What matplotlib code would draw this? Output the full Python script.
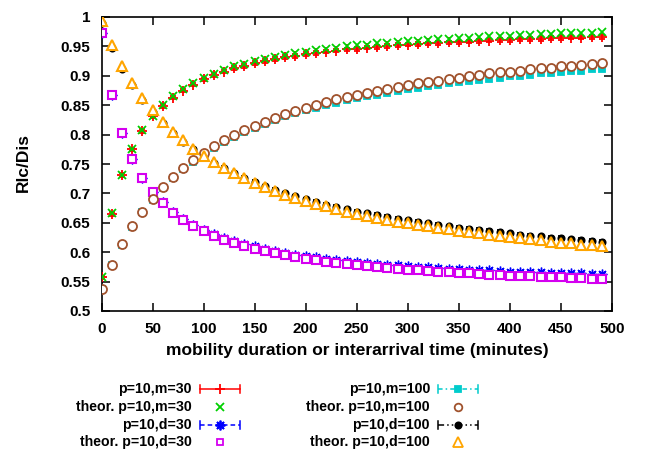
import numpy as np
import matplotlib
matplotlib.use('Agg')
import matplotlib.pyplot as plt
from matplotlib.lines import Line2D

plt.rcParams['font.family'] = ['Liberation Sans', 'DejaVu Sans']
plt.rcParams['font.weight'] = 'bold'

# ── Data ──────────────────────────────────────────────────────────────────────
x = np.arange(0, 500, 10)

sim_m30 = [.557, .665, .731, .775, .806, .831, .849, .863, .875, .885,
           .894, .901, .907, .913, .917, .922, .925, .929, .932, .934,
           .937, .939, .941, .943, .945, .946, .948, .949, .951, .952,
           .953, .954, .955, .956, .957, .957, .958, .959, .960, .961,
           .961, .962, .963, .963, .964, .964, .965, .965, .966, .966]
th_m30 = [.557, .666, .732, .776, .808, .832, .850, .865, .877, .887,
          .896, .903, .910, .916, .920, .925, .929, .932, .936, .938,
          .941, .944, .946, .948, .950, .952, .953, .955, .956, .958,
          .959, .960, .961, .962, .963, .964, .965, .966, .967, .968,
          .968, .969, .970, .971, .971, .972, .972, .973, .973, .974]
sim_d30 = [.973, .867, .802, .759, .727, .703, .685, .669, .657, .647,
           .638, .631, .624, .619, .614, .610, .606, .602, .599, .596,
           .594, .591, .589, .587, .585, .583, .582, .580, .579, .578,
           .576, .575, .574, .573, .572, .571, .570, .569, .569, .568,
           .567, .567, .566, .566, .565, .565, .564, .564, .563, .563]
th_d30 = [.973, .867, .802, .758, .726, .702, .683, .667, .655, .644,
          .636, .628, .621, .616, .610, .606, .602, .598, .595, .592,
          .589, .586, .584, .582, .580, .578, .576, .575, .573, .572,
          .570, .569, .568, .567, .566, .565, .564, .563, .562, .561,
          .560, .559, .559, .558, .557, .557, .556, .556, .555, .555]
sim_m100 = [.537, .578, .613, .643, .668, .689, .709, .726, .741, .754,
            .766, .777, .787, .796, .804, .811, .818, .825, .831, .836,
            .841, .846, .850, .854, .858, .862, .865, .868, .871, .874,
            .877, .880, .882, .885, .887, .889, .891, .893, .895, .897,
            .899, .900, .902, .904, .905, .907, .908, .909, .911, .912]
th_m100 = [.537, .579, .614, .644, .669, .691, .711, .728, .743, .756,
           .769, .780, .790, .799, .807, .815, .822, .829, .835, .840,
           .846, .851, .855, .860, .864, .868, .871, .875, .878, .881,
           .884, .887, .890, .892, .895, .897, .899, .901, .904, .906,
           .907, .909, .911, .913, .914, .916, .917, .919, .920, .922]
sim_d100 = [.990, .947, .912, .884, .859, .838, .819, .803, .788, .775,
            .763, .752, .743, .734, .726, .719, .712, .706, .700, .695,
            .690, .685, .681, .677, .673, .669, .666, .663, .660, .657,
            .654, .651, .649, .647, .644, .642, .640, .638, .636, .634,
            .632, .630, .628, .627, .625, .624, .622, .621, .619, .617]
th_d100 = [.994, .952, .917, .888, .863, .841, .822, .805, .790, .776,
           .764, .753, .743, .734, .726, .718, .711, .704, .698, .693,
           .687, .682, .678, .673, .669, .665, .662, .658, .655, .652,
           .649, .646, .644, .641, .639, .636, .634, .632, .630, .628,
           .626, .624, .622, .621, .618, .616, .615, .613, .612, .610]
err = 0.003

# ── Colours ───────────────────────────────────────────────────────────────────
c_red = '#ff0000'
c_green = '#00d000'
c_blue = '#0000ff'
c_mag = '#d400f0'
c_cyan = '#00cccc'
c_brown = '#a0522d'
c_black = '#000000'
c_orange = '#ffa500'

asterisk = (8, 2, 0)

# ── Figure ────────────────────────────────────────────────────────────────────
fig = plt.figure(figsize=(6.52, 4.55), dpi=100, facecolor='white')
W, H = 652, 455
L, R, T, B = 101.5, 612, 17, 311
ax = fig.add_axes([L / W, 1 - B / H, (R - L) / W, (B - T) / H])

eb = dict(capsize=2, elinewidth=1, capthick=1, markeredgewidth=1.3, ls='none')
ax.errorbar(x, sim_m30, yerr=err, fmt='+', color=c_red, ms=7, zorder=3, **eb)
ax.plot(x, th_m30, 'x', color=c_green, ms=5.5, mew=1.3, zorder=4)
ax.errorbar(x, sim_d30, yerr=err, fmt='none', ecolor=c_blue, zorder=3,
            capsize=2, elinewidth=1, capthick=1)
ax.plot(x, sim_d30, ls='none', marker=asterisk, color=c_blue, ms=7, mew=1, zorder=3)
ax.plot(x, th_d30, 's', color=c_mag, mfc='white', ms=5.5, mew=1.5, zorder=4)
ax.errorbar(x, sim_m100, yerr=err, fmt='s', color=c_cyan, ms=4.5, zorder=3, **eb)
ax.plot(x, th_m100, 'o', color=c_brown, mfc='white', ms=6.5, mew=1.3, zorder=4)
ax.errorbar(x, sim_d100, yerr=err, fmt='o', color=c_black, ms=4.5, zorder=3, **eb)
ax.plot(x, th_d100, '^', color=c_orange, mfc='white', ms=7.5, mew=1.5, zorder=4)

ax.set_xlim(0, 500)
ax.set_ylim(0.5, 1.0)
ax.set_xticks(np.arange(0, 501, 50))
ax.set_yticks([0.5, 0.55, 0.6, 0.65, 0.7, 0.75, 0.8, 0.85, 0.9, 0.95, 1.0])
ax.set_yticklabels(['0.5', '0.55', '0.6', '0.65', '0.7', '0.75', '0.8',
                    '0.85', '0.9', '0.95', '1'])
ax.tick_params(direction='in', top=True, right=True, length=6, width=1.1,
               labelsize=11, pad=8)
for s in ax.spines.values():
    s.set_linewidth(1.2)

fig.text(357 / W, 1 - 350 / H, 'mobility duration or interarrival time (minutes)',
         ha='center', va='center', fontsize=12.5, fontweight='bold')
fig.text(23 / W, 1 - 162 / H, 'Rlc/Dis', ha='center', va='center',
         rotation=90, fontsize=12.5, fontweight='bold')

# ── Legend (gnuplot style, two columns below the plot) ────────────────────────
lg = fig.add_axes([0, 0, 1, 1], facecolor='none')
lg.set_xlim(0, W)
lg.set_ylim(H, 0)
lg.axis('off')

entries = [
    (192, 389, 'p=10,m=30', c_red, '-', '+', c_red, True),
    (192, 407, 'theor. p=10,m=30', c_green, None, 'x', c_green, False),
    (192, 425, 'p=10,d=30', c_blue, (0, (3, 2)), asterisk, c_blue, True),
    (192, 442, 'theor. p=10,d=30', c_mag, None, 's', 'none', False),
    (430, 389, 'p=10,m=100', c_cyan, (0, (3, 2, 1, 2)), 's', c_cyan, True),
    (430, 407, 'theor. p=10,m=100', c_brown, None, 'o', 'none', False),
    (430, 425, 'p=10,d=100', c_black, (0, (4, 2, 1, 2, 1, 2)), 'o', c_black, True),
    (430, 442, 'theor. p=10,d=100', c_orange, None, '^', 'none', False),
]
sizes = {'+': 7, 'x': 5.5, 's': 5, 'o': 5.5, '^': 6.5}
for tx, ty, label, col, ls, mk, mfc, bars in entries:
    lg.text(tx, ty, label, ha='right', va='center', fontsize=10.2,
            fontweight='bold')
    x0, x1 = tx + 8, tx + 48
    xm = (x0 + x1) / 2
    if bars:
        lg.add_line(Line2D([x0, x1], [ty, ty], color=col, lw=1.1, ls=ls))
        for xe in (x0, x1):
            lg.add_line(Line2D([xe, xe], [ty - 4, ty + 4], color=col, lw=1.1))
    ms = sizes.get(mk, 7) if isinstance(mk, str) else 7
    if mk in ('o', 's') and mfc != 'none':
        ms = 4.5
    lg.add_line(Line2D([xm], [ty], marker=mk, color=col, mfc=mfc, ms=ms,
                       mew=1.3, ls='none'))

fig.savefig('out.png', dpi=100, facecolor='white')
